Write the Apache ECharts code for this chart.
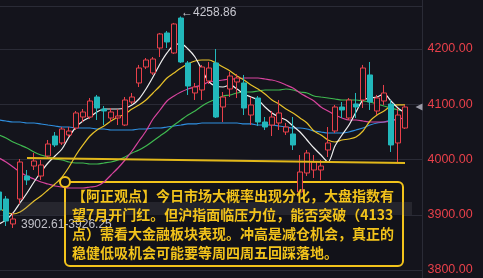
<!DOCTYPE html>
<html><head><meta charset="utf-8">
<script src="https://cdn.jsdelivr.net/npm/echarts@6/dist/echarts.min.js"></script>
<style>html,body{margin:0;padding:0;background:#14141c;}#c{width:483px;height:278px;}</style>
</head><body><div id="c"></div>
<script>
// 61 category slots (59 trading days drawn + 2 empty slots on the right)
const categories = Array.from({length: 61}, (_, i) => 'D' + (i + 1));

// [open, close, low, high]
const candles = [
 [3941.2,3908.6,3905.0,3944.8],[3928.5,3888.7,3879.6,3933.9],[3883.3,3892.3,3876.0,3903.2],
 [3928.5,3995.5,3919.5,4000.9],[3970.1,3962.9,3953.9,3981.0],[3988.2,3997.3,3981.0,4011.8],
 [3970.1,3990.1,3962.9,3999.1],[4006.3,4028.1,4000.9,4035.3],[4042.5,4026.3,4022.6,4049.8],
 [4029.9,4055.2,4026.3,4058.8],[4044.4,4051.6,4040.7,4058.8],[4057.0,4084.2,4053.4,4087.8],
 [4076.9,4086.0,4067.9,4091.4],[4076.9,4105.9,4073.3,4111.3],[4113.1,4093.2,4071.5,4116.8],
 [4091.4,4087.8,4062.4,4096.8],[4075.1,4086.0,4067.9,4093.2],[4075.1,4078.7,4062.4,4091.4],
 [4062.4,4107.7,4060.6,4113.1],[4104.1,4113.1,4100.5,4120.4],[4138.5,4165.6,4131.2,4171.1],
 [4167.4,4180.1,4163.8,4183.7],[4156.6,4181.9,4153.0,4185.5],[4201.8,4227.2,4185.5,4229.0],
 [4229.0,4212.7,4201.8,4232.6],[4192.8,4245.3,4191.0,4247.1],[4256.1,4176.5,4174.7,4258.86],
 [4174.7,4133.0,4116.8,4178.3],[4120.4,4131.2,4107.7,4138.5],[4125.8,4167.4,4107.7,4171.1],
 [4142.1,4165.6,4136.7,4176.5],[4174.7,4076.9,4075.1,4200.0],[4095.0,4113.1,4067.9,4122.2],
 [4127.6,4151.1,4113.1,4158.4],[4140.3,4147.5,4111.3,4154.8],[4138.5,4093.2,4080.5,4153.0],
 [4080.5,4098.7,4062.4,4113.1],[4111.3,4067.9,4060.6,4115.0],[4067.9,4058.8,4053.4,4076.9],
 [4062.4,4076.9,4042.5,4087.8],[4066.1,4084.2,4053.4,4107.7],[4049.8,4058.8,4044.4,4066.1],
 [4046.2,4026.3,4017.2,4076.9],[3941.2,3977.4,3937.6,4008.1],[3975.6,4011.8,3970.1,4017.2],
 [3981.0,3995.5,3966.5,4008.1],[3981.0,3988.2,3962.9,3999.1],[4017.2,4029.9,4004.5,4058.8],
 [4051.6,4095.0,4048.0,4098.7],[4095.0,4089.6,4075.1,4104.1],[4075.1,4107.7,4071.5,4111.3],
 [4100.5,4095.0,4075.1,4120.4],[4107.7,4165.6,4093.2,4171.1],[4153.0,4104.1,4089.6,4176.5],
 [4087.8,4111.3,4080.5,4116.8],[4105.9,4120.4,4098.7,4134.9],[4100.5,4026.3,4013.6,4107.7],
 [4029.9,4080.5,3993.7,4093.2],[4057.0,4095.0,4055.2,4098.7]
];

const ma5 = [3883.3,3890.5,3903.2,3921.3,3939.4,3959.3,3977.4,3993.7,4006.3,4019.0,4040.7,4058.8,4069.7,4076.9,4086.0,4091.4,4091.4,4091.4,4093.2,4098.7,4109.5,4127.6,4149.3,4172.9,4192.8,4207.3,4209.1,4200.0,4185.5,4162.0,4140.3,4133.0,4131.2,4134.9,4127.6,4118.6,4113.1,4107.7,4095.0,4084.2,4076.9,4071.5,4060.6,4049.8,4035.3,4020.8,4008.1,3995.5,4024.4,4044.4,4062.4,4086.0,4107.7,4111.3,4113.1,4118.6,4105.9,4093.2,4084.2];
const ma10 = [3912.2,3905.0,3901.4,3905.0,3914.0,3924.9,3933.9,3944.8,3955.7,3968.3,3986.4,4008.1,4026.3,4042.5,4053.4,4060.6,4069.7,4076.9,4082.4,4091.4,4098.7,4107.7,4120.4,4133.0,4147.5,4156.6,4165.6,4172.9,4178.3,4180.1,4180.1,4174.7,4167.4,4160.2,4151.1,4143.9,4134.9,4127.6,4118.6,4107.7,4100.5,4091.4,4084.2,4075.1,4066.1,4051.6,4044.4,4035.3,4031.7,4035.3,4037.1,4040.7,4051.6,4069.7,4080.5,4087.8,4096.8,4098.7,4098.7];
const ma20 = [4002.7,3995.5,3986.4,3977.4,3970.1,3964.7,3959.3,3955.7,3952.0,3950.2,3948.4,3948.4,3948.4,3950.2,3952.0,3959.3,3972.0,3984.6,3999.1,4015.4,4033.5,4051.6,4073.3,4089.6,4105.9,4115.0,4122.2,4127.6,4131.2,4134.9,4140.3,4142.1,4143.9,4145.7,4145.7,4147.5,4147.5,4147.5,4145.7,4143.9,4140.3,4134.9,4129.4,4120.4,4113.1,4105.9,4095.0,4087.8,4080.5,4075.1,4071.5,4071.5,4069.7,4067.9,4067.9,4067.9,4069.7,4073.3,4075.1];
const ma30 = [4044.4,4038.9,4031.7,4026.3,4020.8,4013.6,4008.1,4004.5,4000.9,3999.1,3995.5,3993.7,3993.7,3991.9,3991.9,3993.7,3995.5,3999.1,4004.5,4011.8,4017.2,4024.4,4033.5,4042.5,4051.6,4062.4,4071.5,4080.5,4087.8,4096.8,4104.1,4109.5,4115.0,4116.8,4120.4,4122.2,4122.2,4124.0,4125.8,4125.8,4125.8,4127.6,4125.8,4122.2,4120.4,4115.0,4113.1,4111.3,4109.5,4107.7,4107.7,4107.7,4105.9,4104.1,4100.5,4096.8,4093.2,4089.6,4087.8];
const ma60 = [4071.5,4069.7,4067.9,4067.9,4066.1,4066.1,4064.3,4062.4,4060.6,4058.8,4058.8,4057.0,4057.0,4057.0,4055.2,4055.2,4053.4,4053.4,4053.4,4053.4,4055.2,4055.2,4057.0,4057.0,4058.8,4060.6,4062.4,4064.3,4064.3,4066.1,4066.1,4066.1,4066.1,4066.1,4066.1,4064.3,4064.3,4062.4,4062.4,4062.4,4060.6,4058.8,4057.0,4057.0,4055.2,4051.6,4049.8,4048.0,4048.0,4048.0,4049.8,4053.4,4057.0,4062.4,4066.1,4067.9,4071.5,4073.3,4075.1];

// support line end points: [category index, value]
const supportStart = [4, 4002.7];
const supportEnd = [58, 3993.7];

const yTicks = [3800, 3900, 4000, 4100, 4200];
const highLabel = '←4258.86';
const highPoint = [26, 4258.86];
const lowLabel = '3902.61-3926.25';
const lowPoint = [2, 3903.2];
const lastClose = [60, 4095.0];

const noteLines = [
  '【阿正观点】今日市场大概率出现分化，大盘指数有',
  '望7月开门红。但沪指面临压力位，能否突破（4133',
  '点）需看大金融板块表现。冲高是减仓机会，真正的',
  '稳健低吸机会可能要等周四周五回踩落地。'
];

const BG = '#14141c';
const RED = '#e8404a';
const CYAN = '#22b8bb';
const GRIDC = '#2a2b36';
const NOTE = '#f2c31b';

const chart = echarts.init(document.getElementById('c'), null, {renderer: 'canvas'});

function maSeries(name, data, color) {
  return {name, type: 'line', data, symbol: 'none', smooth: 0.3,
    lineStyle: {color, width: 1.2}, z: 3, silent: true};
}

chart.setOption({
  backgroundColor: BG,
  animation: false,
  grid: {left: -4.5, right: 60.5, top: -6.25, bottom: -47.25, containLabel: false, outerBoundsMode: 'none'},
  xAxis: {type: 'category', data: categories, boundaryGap: true,
    axisLine: {show: false}, axisTick: {show: false}, axisLabel: {show: false}, splitLine: {show: false}},
  yAxis: {type: 'value', position: 'right', min: 3700, max: 4300, interval: 100, scale: true,
    axisLine: {show: true, lineStyle: {color: GRIDC}}, axisTick: {show: false},
    splitLine: {show: true, lineStyle: {color: GRIDC, width: 1}},
    axisLabel: {color: RED, fontSize: 12.5, fontFamily: 'Liberation Sans', margin: 5,
      formatter: v => yTicks.indexOf(v) >= 0 ? v.toFixed(2) : ''}},
  series: [
    maSeries('MA60', ma60, '#2f8fe0'),
    maSeries('MA30', ma30, '#3fb950'),
    maSeries('MA20', ma20, '#d8449e'),
    maSeries('MA10', ma10, '#e8c22a'),
    maSeries('MA5', ma5, '#f0f0f0'),
    {type: 'candlestick', data: candles, barWidth: 5, z: 4,
      itemStyle: {color: BG, color0: CYAN, borderColor: RED, borderColor0: CYAN, borderWidth: 1},
      markLine: {silent: true, symbol: ['none', 'none'], label: {show: false},
        lineStyle: {color: '#e2b81a', width: 2, type: 'solid'},
        data: [[{coord: supportStart}, {coord: supportEnd}]]},
      markPoint: {silent: true, data: [
        {coord: highPoint, symbol: 'circle', symbolSize: 0,
          label: {show: true, position: 'right', distance: 0, offset: [0, -4], formatter: highLabel,
            color: '#c8c8d0', fontSize: 12, fontFamily: 'Liberation Sans'}},
        {coord: lowPoint, symbol: 'circle', symbolSize: 0,
          label: {show: true, position: 'right', distance: 8, offset: [0, 12], formatter: lowLabel,
            color: '#c0c0c8', fontSize: 12, fontFamily: 'Liberation Sans'}},
        {coord: lastClose, symbol: 'triangle', symbolRotate: 90, symbolSize: [7, 7],
          itemStyle: {color: '#9a9aa6'}, label: {show: false}}
      ]}}
  ],
  graphic: [
    {type: 'line', shape: {x1: 0, y1: 6.5, x2: 422, y2: 6.5}, style: {stroke: GRIDC, lineWidth: 1}, z: 0, silent: true},
    {type: 'rect', shape: {x: 65, y: 182, width: 338, height: 84, r: 5}, z: 1,
      style: {fill: '#121219', stroke: NOTE, lineWidth: 2}, silent: true},
    {type: 'rect', shape: {x: 20, y: 202, width: 392, height: 13}, z: 5,
      style: {fill: 'rgba(120,120,135,0.18)'}, silent: true},
    {type: 'circle', shape: {cx: 65, cy: 182, r: 5}, z: 6,
      style: {fill: '#121219', stroke: NOTE, lineWidth: 2}, silent: true},
    {type: 'text', x: 72, y: 186.5, z: 10, silent: true,
      style: {text: noteLines.join('\n'), fill: NOTE, font: 'bold 14px "Noto Sans CJK SC"', lineHeight: 19}}
  ]
});
</script></body></html>
